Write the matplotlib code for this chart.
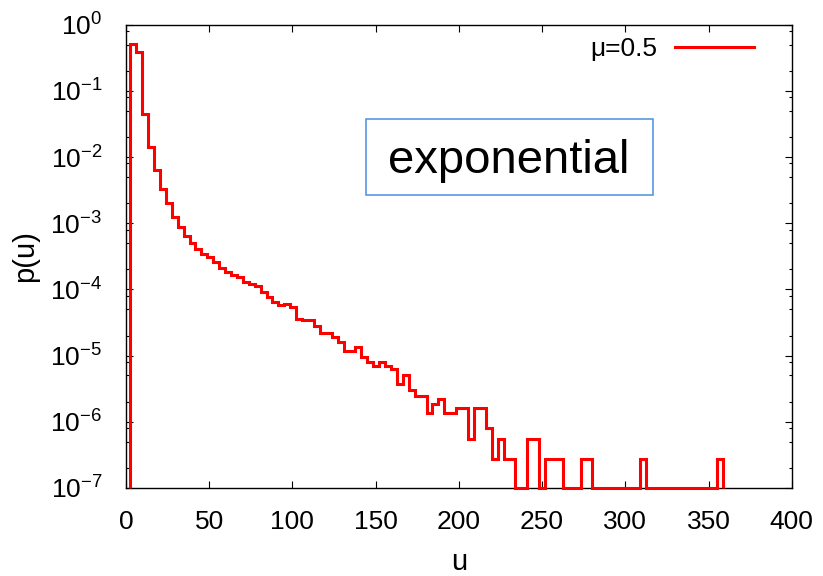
import matplotlib.pyplot as plt
from matplotlib.lines import Line2D
from matplotlib.patches import Rectangle
from matplotlib.ticker import LogLocator, NullFormatter, MultipleLocator
import numpy as np

plt.rcParams['font.family'] = ['Liberation Sans', 'DejaVu Sans']
plt.rcParams['axes.unicode_minus'] = False

# histogram of u, mu = 0.5 (zero-count bins are 0)
u_first_edge = 2.6
bin_width = 3.56
p_u = [
    0.511, 0.387, 0.0447, 0.01445, 0.00631, 0.00326, 0.00200, 0.00125, 0.000883, 0.000652,
    0.000500, 0.000410, 0.000341, 0.000307, 0.000258, 0.000210, 0.000186, 0.000163, 0.000153, 0.000131,
    0.000120, 0.000113, 9.29e-5, 7.80e-5, 6.55e-5, 5.84e-5, 6.05e-5, 5.36e-5, 3.59e-5, 3.41e-5,
    3.41e-5, 2.76e-5, 2.16e-5, 2.23e-5, 1.92e-5, 1.61e-5, 1.19e-5, 1.19e-5, 1.34e-5, 9.46e-6,
    8.11e-6, 7.06e-6, 7.94e-6, 7.06e-6, 6.29e-6, 3.73e-6, 5.11e-6, 3.03e-6, 2.46e-6, 2.46e-6,
    1.35e-6, 1.86e-6, 2.19e-6, 1.35e-6, 1.35e-6, 1.63e-6, 1.63e-6, 5.4e-7, 1.63e-6, 1.63e-6,
    8.1e-7, 2.7e-7, 5.4e-7, 2.7e-7, 2.7e-7, 0, 0, 5.4e-7, 5.4e-7, 0,
    2.7e-7, 2.7e-7, 2.7e-7, 0, 0, 0, 2.7e-7, 2.7e-7, 0, 0,
    0, 0, 0, 0, 0, 0, 2.7e-7, 0, 0, 0,
    0, 0, 0, 0, 0, 0, 0, 0, 0, 2.7e-7,
]
series_label = 'μ=0.5'
box_text = 'exponential'

x_range = (0, 400)
y_range = (1e-7, 1)

fig = plt.figure(figsize=(8.23, 5.76), dpi=100)
ax = fig.add_axes([0.153, 0.153, 0.809, 0.804])

edges = u_first_edge + bin_width * np.arange(len(p_u) + 1)
shown = np.maximum(np.array(p_u), y_range[0])
ax.stairs(shown, edges, baseline=y_range[0], color='red', linewidth=2.2,
          clip_on=False, zorder=5, joinstyle='miter')

ax.set_yscale('log')
ax.set_xlim(*x_range)
ax.set_ylim(*y_range)

ax.xaxis.set_major_locator(MultipleLocator(50))
ax.yaxis.set_major_locator(LogLocator(base=10, numticks=20))
ax.yaxis.set_minor_locator(LogLocator(base=10, subs=[2, 5, 8], numticks=20))
ax.yaxis.set_minor_formatter(NullFormatter())

ax.tick_params(which='both', direction='in', top=True, right=True, width=0.8,
               labelsize=19)
ax.tick_params(which='major', length=4.8)
ax.tick_params(which='minor', length=2.4)
ax.tick_params(axis='x', pad=16)
ax.tick_params(axis='y', pad=17)
for s in ax.spines.values():
    s.set_linewidth(1.0)

ax.set_xlabel('u', fontsize=21, labelpad=10)
ax.set_ylabel('p(u)', fontsize=21, labelpad=8)

# legend, sample line to the right of the text
handle = Line2D([], [], color='red', linewidth=2.2)
ax.legend([handle], [series_label], loc='upper right', frameon=False,
          markerfirst=False, fontsize=19, handlelength=3.0, handletextpad=0.7,
          borderpad=0, borderaxespad=0, bbox_to_anchor=(0.944, 0.974))

# boxed caption
ax.add_patch(Rectangle((0.36, 0.632), 0.431, 0.164, transform=ax.transAxes,
                       fill=False, edgecolor='#4a8fe0', linewidth=1.1, zorder=6))
ax.text(0.5755, 0.705, box_text, transform=ax.transAxes, ha='center',
        va='center', fontsize=34)

fig.savefig('out.png', dpi=100)
